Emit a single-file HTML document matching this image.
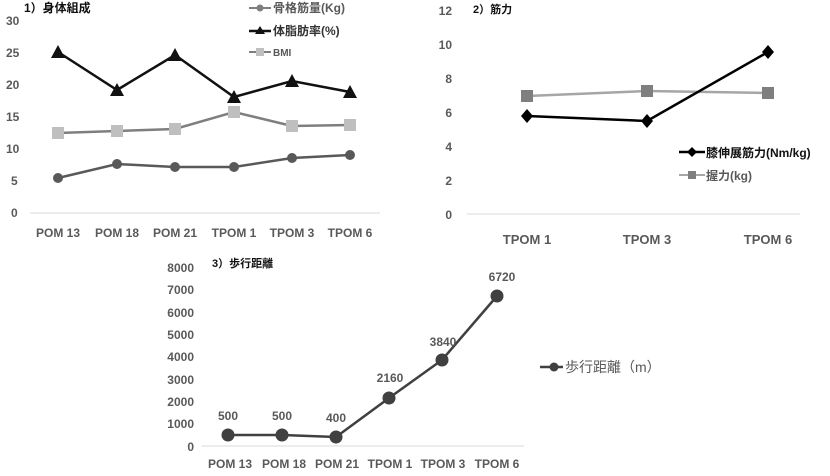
<!DOCTYPE html>
<html><head><meta charset="utf-8"><style>
html,body{margin:0;padding:0;background:#fff}
svg text{font-family:"Liberation Sans","Noto Sans CJK JP",sans-serif;font-weight:bold;fill:#595959}
</style></head><body>
<svg width="830" height="471" viewBox="0 0 830 471" xmlns="http://www.w3.org/2000/svg">
<rect width="830" height="471" fill="#fff"/>
<!-- Chart 1 -->
<text x="24" y="12" font-size="12" style="fill:#111">1）身体組成</text>
<g font-size="12" text-anchor="start">
<text x="6" y="25">30</text><text x="6" y="57">25</text><text x="6" y="89">20</text><text x="6" y="121">15</text><text x="6" y="153">10</text><text x="11" y="185">5</text><text x="11" y="217">0</text>
</g>
<line x1="30" y1="213" x2="380" y2="213" stroke="#d9d9d9" stroke-width="1"/>
<g font-size="12" text-anchor="middle">
<text x="58" y="237">POM 13</text><text x="117" y="237">POM 18</text><text x="175" y="237">POM 21</text><text x="234" y="237">TPOM 1</text><text x="292" y="237">TPOM 3</text><text x="350" y="237">TPOM 6</text>
</g>
<polyline points="58,178 117,164 175,167 234,167 292,158 350,155" fill="none" stroke="#595959" stroke-width="2.5"/>
<g fill="#595959"><circle cx="58" cy="178" r="5"/><circle cx="117" cy="164" r="5"/><circle cx="175" cy="167" r="5"/><circle cx="234" cy="167" r="5"/><circle cx="292" cy="158" r="5"/><circle cx="350" cy="155" r="5"/></g>
<polyline points="58,133 117,131 175,129 234,112 292,126 350,125" fill="none" stroke="#7f7f7f" stroke-width="2.5"/>
<g fill="#bfbfbf"><rect x="52" y="127" width="12" height="12"/><rect x="111" y="125" width="12" height="12"/><rect x="169" y="123" width="12" height="12"/><rect x="228" y="106" width="12" height="12"/><rect x="286" y="120" width="12" height="12"/><rect x="344" y="119" width="12" height="12"/></g>
<polyline points="58,52 117,90 175,55 234,97 292,81 350,92" fill="none" stroke="#111" stroke-width="2.5"/>
<g fill="#111">
<polygon points="58,45 51,58 65,58"/><polygon points="117,83 110,96 124,96"/><polygon points="175,48 168,61 182,61"/><polygon points="234,90 227,103 241,103"/><polygon points="292,74 285,87 299,87"/><polygon points="350,85 343,98 357,98"/>
</g>
<line x1="249" y1="8" x2="271" y2="8" stroke="#7f7f7f" stroke-width="2"/><circle cx="260" cy="8" r="3.5" fill="#7f7f7f"/>
<text x="273" y="12" font-size="12">骨格筋量(Kg)</text>
<line x1="249" y1="31" x2="271" y2="31" stroke="#111" stroke-width="2.5"/><polygon points="260,26 255,34 265,34" fill="#111"/>
<text x="273" y="35" font-size="12" style="fill:#333">体脂肪率(%)</text>
<line x1="249" y1="52" x2="271" y2="52" stroke="#7f7f7f" stroke-width="2"/><rect x="256" y="48" width="8" height="8" fill="#bfbfbf"/>
<text x="273" y="56" font-size="10">BMI</text>
<!-- Chart 2 -->
<text x="473" y="13" font-size="11" style="fill:#111">2）筋力</text>
<g font-size="12" text-anchor="end">
<text x="452" y="15">12</text><text x="452" y="49">10</text><text x="452" y="83">8</text><text x="452" y="117">6</text><text x="452" y="151">4</text><text x="452" y="185">2</text><text x="452" y="219">0</text>
</g>
<line x1="467" y1="214" x2="800" y2="214" stroke="#d9d9d9" stroke-width="1"/>
<g font-size="13" text-anchor="middle">
<text x="527" y="244">TPOM 1</text><text x="647" y="244">TPOM 3</text><text x="768" y="244">TPOM 6</text>
</g>
<polyline points="527,96 647,91 768,93" fill="none" stroke="#a6a6a6" stroke-width="2.5"/>
<g fill="#7f7f7f"><rect x="521" y="90" width="12" height="12"/><rect x="641" y="85" width="12" height="12"/><rect x="762" y="87" width="12" height="12"/></g>
<polyline points="527,116 647,121 768,52" fill="none" stroke="#000" stroke-width="2.5"/>
<g fill="#000"><polygon points="527,109 533,116 527,123 521,116"/><polygon points="647,114 653,121 647,128 641,121"/><polygon points="768,45 774,52 768,59 762,52"/></g>
<line x1="679" y1="152" x2="705" y2="152" stroke="#000" stroke-width="2.5"/><polygon points="692,147 697,152 692,157 687,152" fill="#000"/>
<text x="706" y="157" font-size="12" style="fill:#111">膝伸展筋力(Nm/kg)</text>
<line x1="679" y1="175" x2="705" y2="175" stroke="#a6a6a6" stroke-width="2"/><rect x="688" y="171" width="8" height="8" fill="#7f7f7f"/>
<text x="706" y="180" font-size="12">握力(kg)</text>
<!-- Chart 3 -->
<text x="212" y="267" font-size="11" style="fill:#111">3）歩行距離</text>
<g font-size="12" text-anchor="end">
<text x="194" y="272">8000</text><text x="194" y="294">7000</text><text x="194" y="317">6000</text><text x="194" y="339">5000</text><text x="194" y="361">4000</text><text x="194" y="384">3000</text><text x="194" y="406">2000</text><text x="194" y="428">1000</text><text x="194" y="451">0</text>
</g>
<line x1="202" y1="446" x2="524" y2="446" stroke="#d9d9d9" stroke-width="1"/>
<g font-size="12" text-anchor="middle">
<text x="230" y="468">POM 13</text><text x="284" y="468">POM 18</text><text x="337" y="468">POM 21</text><text x="390" y="468">TPOM 1</text><text x="443" y="468">TPOM 3</text><text x="497" y="468">TPOM 6</text>
</g>
<polyline points="228,435 282,435 336,437 389,398 442,360 497,296" fill="none" stroke="#404040" stroke-width="2.5"/>
<g fill="#404040"><circle cx="228" cy="435" r="6.5"/><circle cx="282" cy="435" r="6.5"/><circle cx="336" cy="437" r="6.5"/><circle cx="389" cy="398" r="6.5"/><circle cx="442" cy="360" r="6.5"/><circle cx="497" cy="296" r="6.5"/></g>
<g font-size="12" text-anchor="middle" style="fill:#404040">
<text x="228" y="420">500</text><text x="282" y="420">500</text><text x="336" y="422">400</text><text x="390" y="382">2160</text><text x="443" y="346">3840</text><text x="502" y="281">6720</text>
</g>
<line x1="540" y1="367" x2="563" y2="367" stroke="#404040" stroke-width="2.5"/><circle cx="554" cy="367" r="4.5" fill="#404040"/>
<text x="565" y="372" font-size="14" style="font-weight:normal;fill:#595959">歩行距離（m）</text>
</svg>
</body></html>
